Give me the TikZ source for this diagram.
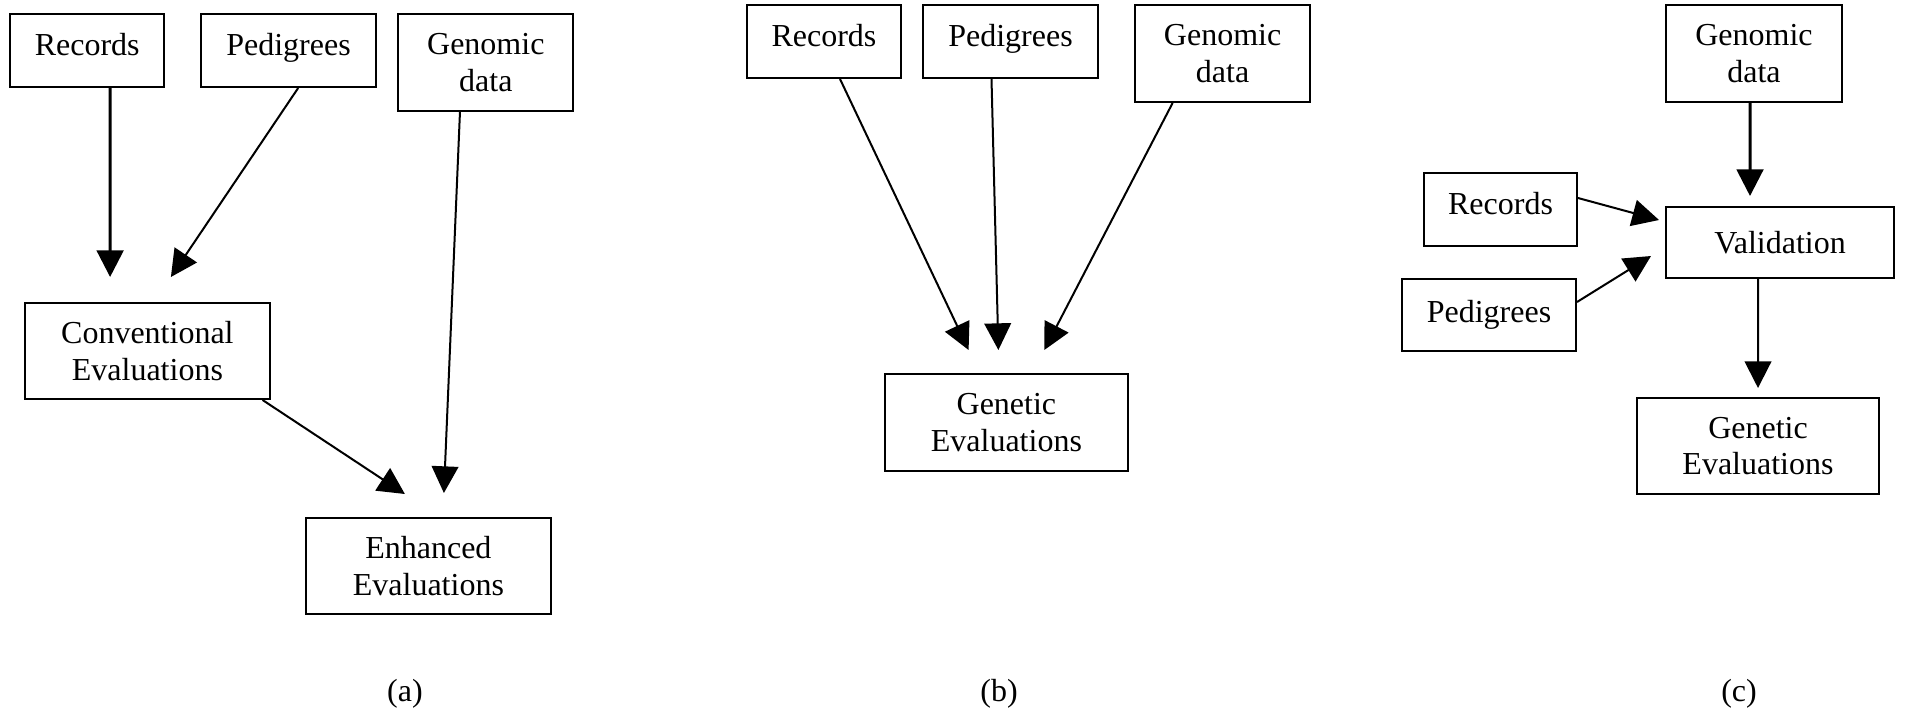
\documentclass[tikz,border=0pt]{standalone}
\usepackage{fontspec}
\setmainfont{Liberation Serif}
\usetikzlibrary{arrows.meta}

\begin{document}
\begin{tikzpicture}[
	x=0.3pt, y=-0.3pt,
	every node/.style={font=\fontsize{9.6}{11}\selectfont, align=center},
	box/.style={draw, line width=0.6pt, inner sep=0pt},
	raised/.style={text depth=3.6pt},
	link/.style={draw, line width=0.6pt, -{Triangle[length=8pt, width=8pt]}},
	boldlink/.style={link, line width=0.9pt}
	]
	\useasboundingbox (0,0) rectangle (1905,717);

	% (a)
	\node[box, raised, minimum width=46.1pt, minimum height=21.9pt] (recA) at (87.2,50.5) {Records};
	\node[box, raised, minimum width=52.6pt, minimum height=21.9pt] (pedA) at (288.5,50.5) {Pedigrees};
	\node[box, minimum width=52.6pt, minimum height=29.1pt] (genA) at (485.8,62.5) {Genomic\\data};
	\node[box, minimum width=73.3pt, minimum height=28.8pt] (convA) at (147.4,351) {Conventional\\Evaluations};
	\node[box, minimum width=73.3pt, minimum height=28.8pt] (enhA) at (428.4,566) {Enhanced\\Evaluations};
	\node (capA) at (405,694) {(a)};
	\coordinate (ra) at (110.1,277);
	\coordinate (pa) at (170.9,277);
	\coordinate (ga) at (443.9,493);
	\coordinate (ca) at (404.9,494);
	\draw[boldlink] ([xshift=6.87pt]recA.south) -- (ra);
	\draw[link] ([xshift=2.9pt]pedA.south) -- (pa);
	\draw[link] ([xshift=-7.75pt]genA.south) -- (ga);
	\draw[link] ([xshift=-2.4pt]convA.south east) -- (ca);

	% (b)
	\node[box, raised, minimum width=46.1pt, minimum height=21.9pt] (recB) at (824,41.5) {Records};
	\node[box, raised, minimum width=52.6pt, minimum height=21.9pt] (pedB) at (1010.5,41.5) {Pedigrees};
	\node[box, minimum width=52.6pt, minimum height=29.1pt] (genB) at (1222.6,53.5) {Genomic\\data};
	\node[box, minimum width=73pt, minimum height=29.1pt] (evalB) at (1006.4,422.5) {Genetic\\Evaluations};
	\node (capB) at (999,694) {(b)};
	\coordinate (rb) at (968.6,350);
	\coordinate (pb) at (998.4,350);
	\coordinate (gb) at (1044.3,350);
	\draw[link] ([xshift=4.8pt]recB.south) -- (rb);
	\draw[link] ([xshift=-5.7pt]pedB.south) -- (pb);
	\draw[link] ([xshift=-15pt]genB.south) -- (gb);

	% (c)
	\node[box, minimum width=52.8pt, minimum height=29.1pt] (genC) at (1754,53.5) {Genomic\\data};
	\node[box, raised, minimum width=45.9pt, minimum height=21.9pt] (recC) at (1500.5,209.5) {Records};
	\node[box, minimum width=52.2pt, minimum height=21.6pt] (pedC) at (1489,315) {Pedigrees};
	\node[box, minimum width=68.4pt, minimum height=21.3pt] (valC) at (1780,242.5) {Validation};
	\node[box, minimum width=72.6pt, minimum height=28.8pt] (evalC) at (1758,446) {Genetic\\Evaluations};
	\node (capC) at (1739,694) {(c)};
	\coordinate (gc) at (1750,196);
	\coordinate (rc) at (1659,220);
	\coordinate (pc) at (1651,256);
	\coordinate (vc) at (1758,388);
	\draw[boldlink] ([xshift=-1.2pt]genC.south) -- (gc);
	\draw[link] ([yshift=3.45pt]recC.east) -- (rc);
	\draw[link] ([yshift=3.9pt]pedC.east) -- (pc);
	\draw[link] ([xshift=-6.6pt]valC.south) -- (vc);
\end{tikzpicture}
\end{document}
